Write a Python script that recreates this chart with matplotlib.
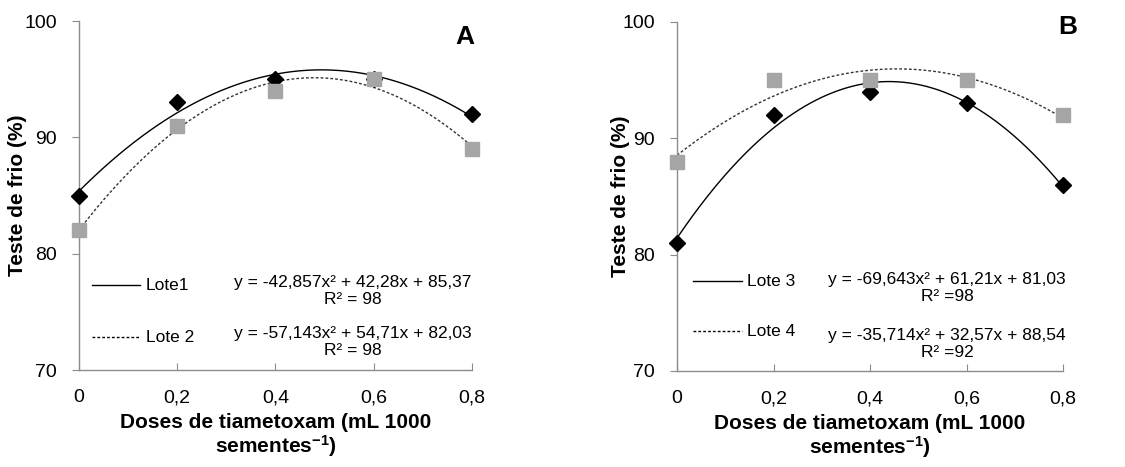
import numpy as np
import matplotlib
matplotlib.use('Agg')
import matplotlib.pyplot as plt

plt.rcParams['font.family'] = ['Liberation Sans', 'DejaVu Sans']
plt.rcParams['mathtext.fontset'] = 'custom'
plt.rcParams['mathtext.rm'] = 'Liberation Sans'
plt.rcParams['mathtext.bf'] = 'Liberation Sans:bold'
plt.rcParams['mathtext.default'] = 'bf'

# doses (mL 1000 sementes-1)
doses = [0, 0.2, 0.4, 0.6, 0.8]
tick_labels = ['0', '0,2', '0,4', '0,6', '0,8']

# teste de frio (%)
lote1 = [85, 93, 95, 95, 92]
lote2 = [82, 91, 94, 95, 89]
lote3 = [81, 92, 94, 93, 86]
lote4 = [88, 95, 95, 95, 92]

eq_lote1 = 'y = -42,857x² + 42,28x + 85,37\nR² = 98'
eq_lote2 = 'y = -57,143x² + 54,71x + 82,03\nR² = 98'
eq_lote3 = 'y = -69,643x² + 61,21x + 81,03\nR² =98'
eq_lote4 = 'y = -35,714x² + 32,57x + 88,54\nR² =92'

gray = '#a5a5a5'
axcol = '#8c8c8c'
dots = (0, (2.0, 1.5))

fig = plt.figure(figsize=(11.25, 4.67), dpi=100)
axA = fig.add_axes([0.0702, 0.2077, 0.3493, 0.7473])
axB = fig.add_axes([0.6018, 0.2056, 0.3431, 0.7473])


def panel(ax, ya, yb, names, eqs, letter, letter_xy, ylab_x, leg_x, leg_y, eq_x, eq_y):
    xs = np.linspace(0, 0.8, 200)
    ca = np.polyfit(doses, ya, 2)
    cb = np.polyfit(doses, yb, 2)
    ax.plot(xs, np.polyval(ca, xs), color='black', lw=1.0, zorder=2)
    ax.plot(xs, np.polyval(cb, xs), color='#333333', lw=1.0, ls=dots, zorder=2)
    ax.plot(doses, ya, ls='', marker='D', ms=8, color='black', zorder=3, clip_on=False)
    ax.plot(doses, yb, ls='', marker='s', ms=10, color=gray, zorder=4, clip_on=False)

    ax.set_xlim(0, 0.8)
    ax.set_ylim(70, 100)
    ax.set_xticks(doses)
    ax.set_xticklabels(tick_labels)
    ax.set_yticks([70, 80, 90, 100])
    ax.spines['top'].set_visible(False)
    ax.spines['right'].set_visible(False)
    for s in ('left', 'bottom'):
        ax.spines[s].set_color(axcol)
        ax.spines[s].set_linewidth(1.0)
    ax.tick_params(axis='y', direction='out', length=5, color=axcol, labelsize=14, pad=11)
    ax.tick_params(axis='x', direction='in', length=5, color=axcol, labelsize=14, pad=14)

    ax.set_ylabel('Teste de frio (%)', fontsize=15, fontweight='bold')
    ax.yaxis.set_label_coords(ylab_x, 0.5)
    ax.set_xlabel('Doses de tiametoxam (mL 1000\nsementes$^{-1}$)', fontsize=15,
                  fontweight='bold', labelpad=5, linespacing=1.05)

    # legend drawn by hand like the original
    for i, (nm, eq) in enumerate(zip(names, eqs)):
        yl = leg_y[i]
        ls = '-' if i == 0 else dots
        ax.plot([leg_x[0], leg_x[1]], [yl, yl], color='black', lw=1.0, ls=ls, clip_on=False)
        ax.text(leg_x[2], yl, nm, fontsize=12.5, va='center', ha='left')
        ax.text(eq_x, eq_y[i], eq, fontsize=12.5, va='center', ha='center', linespacing=1.15)

    ax.text(letter_xy[0], letter_xy[1], letter, fontsize=19, fontweight='bold',
            ha='center', va='center')


panel(axA, lote1, lote2, ['Lote1', 'Lote 2'], [eq_lote1, eq_lote2], 'A', (0.785, 98.6), -0.132,
      (0.026, 0.124, 0.136), [77.3, 72.8], 0.557, [76.8, 72.4])
panel(axB, lote3, lote4, ['Lote 3', 'Lote 4'], [eq_lote3, eq_lote4], 'B', (0.81, 99.6), -0.122,
      (0.033, 0.135, 0.145), [77.7, 73.4], 0.56, [77.1, 72.3])

fig.savefig('out.png', dpi=100)
